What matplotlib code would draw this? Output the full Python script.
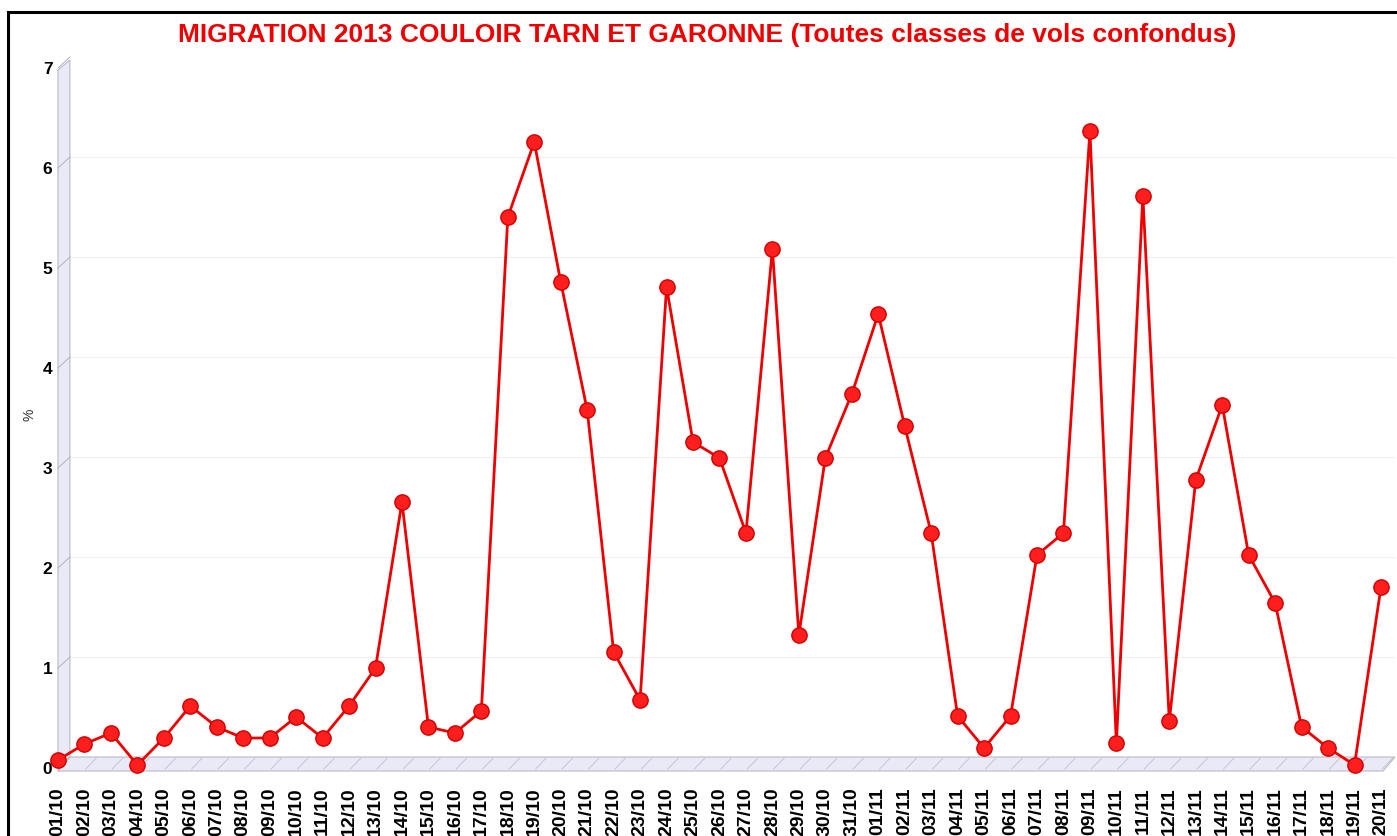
import matplotlib.pyplot as plt
import matplotlib.transforms as mtransforms
from matplotlib.patches import Polygon, Rectangle
import numpy as np

plt.rcParams['font.family'] = ['Liberation Sans', 'DejaVu Sans']

dates = ['01/10', '02/10', '03/10', '04/10', '05/10', '06/10', '07/10', '08/10', '09/10', '10/10',
         '11/10', '12/10', '13/10', '14/10', '15/10', '16/10', '17/10', '18/10', '19/10', '20/10',
         '21/10', '22/10', '23/10', '24/10', '25/10', '26/10', '27/10', '28/10', '29/10', '30/10',
         '31/10', '01/11', '02/11', '03/11', '04/11', '05/11', '06/11', '07/11', '08/11', '09/11',
         '10/11', '11/11', '12/11', '13/11', '14/11', '15/11', '16/11', '17/11', '18/11', '19/11',
         '20/11']
pct = [0.05, 0.21, 0.32, 0.0, 0.27, 0.59, 0.38, 0.27, 0.27, 0.48,
       0.27, 0.59, 0.97, 2.63, 0.38, 0.32, 0.54, 5.48, 6.23, 4.83,
       3.55, 1.13, 0.65, 4.78, 3.23, 3.07, 2.32, 5.16, 1.30, 3.07,
       3.71, 4.51, 3.39, 2.32, 0.49, 0.17, 0.49, 2.10, 2.32, 6.34,
       0.22, 5.69, 0.44, 2.85, 3.60, 2.10, 1.62, 0.38, 0.17, 0.0,
       1.78]
yticks = [0, 1, 2, 3, 4, 5, 6, 7]

W, H = 1397, 836
fig = plt.figure(figsize=(W / 100, H / 100), dpi=100)
ax = fig.add_axes([58 / W, (H - 771) / H, (1395 - 58) / W, (771 - 60) / H])

x = np.arange(len(dates))
x_max = 50.53
ax.set_xlim(0, x_max)
ax.set_ylim(-0.06, 7.05)

dx, dy = 0.45, 0.14  # depth offset of the back plane (data units)

# pseudo 3D wall and floor
ax.add_patch(Polygon([(0, -0.06), (dx, -0.06 + dy), (dx, 7.05), (0, 6.95)], closed=True,
                     facecolor='#EAEAF6', edgecolor='#B8B8CC', lw=0.8, clip_on=False, zorder=1))
ax.add_patch(Polygon([(0, -0.06), (dx, -0.06 + dy), (x_max, -0.06 + dy), (x_max - dx, -0.06)],
                     closed=True, facecolor='#EAEAF6', edgecolor='#B8B8CC', lw=0.8,
                     clip_on=False, zorder=1))

# grid lines on back plane + slanted ticks on wall and floor
for v in yticks[1:]:
    ax.plot([dx, x_max], [v + 0.08, v + 0.08], color='#EFEFEF', lw=0.8, zorder=0)
for v in yticks:
    ax.plot([0, dx], [v - 0.03, v + 0.08], color='#B0B0C0', lw=0.7, zorder=2, clip_on=False)
for i in x:
    ax.plot([i + 0.05, i + 0.45], [-0.04, 0.07], color='#C4C4D4', lw=0.7, zorder=2)

ax.plot(x, pct, color='#EE0000', lw=2, marker='o', markersize=11,
        markerfacecolor='#FF1E1E', markeredgecolor='#D00000', markeredgewidth=1,
        zorder=5, clip_on=False)

for s in ax.spines.values():
    s.set_visible(False)

ax.set_xticks(x)
ax.set_xticklabels(dates, rotation=90, fontsize=14, fontweight='bold', va='top')
ax.set_yticks(yticks)
ax.set_yticklabels([str(v) for v in yticks], fontsize=12.5, fontweight='bold')
ax.tick_params(axis='x', length=0, pad=12)
ax.tick_params(axis='y', length=0, pad=4)
off = mtransforms.ScaledTranslation(0, -3 / 100, fig.dpi_scale_trans)
for lab in ax.get_yticklabels():
    lab.set_transform(lab.get_transform() + off)

fig.text(30 / W, 1 - 415 / H, '%', rotation=90, fontsize=10, color='#333333',
         ha='center', va='center')
fig.text(707 / W, 1 - 35 / H,
         'MIGRATION 2013 COULOIR TARN ET GARONNE (Toutes classes de vols confondus)',
         color='#EE0000', fontsize=19, fontweight='bold', ha='center', va='center')

fig.patches.append(Rectangle((8 / W, -0.1), 1.2, 1 - 12 / H + 0.1, transform=fig.transFigure,
                             fill=False, edgecolor='black', lw=2.2))

fig.savefig('out.png', dpi=100)
